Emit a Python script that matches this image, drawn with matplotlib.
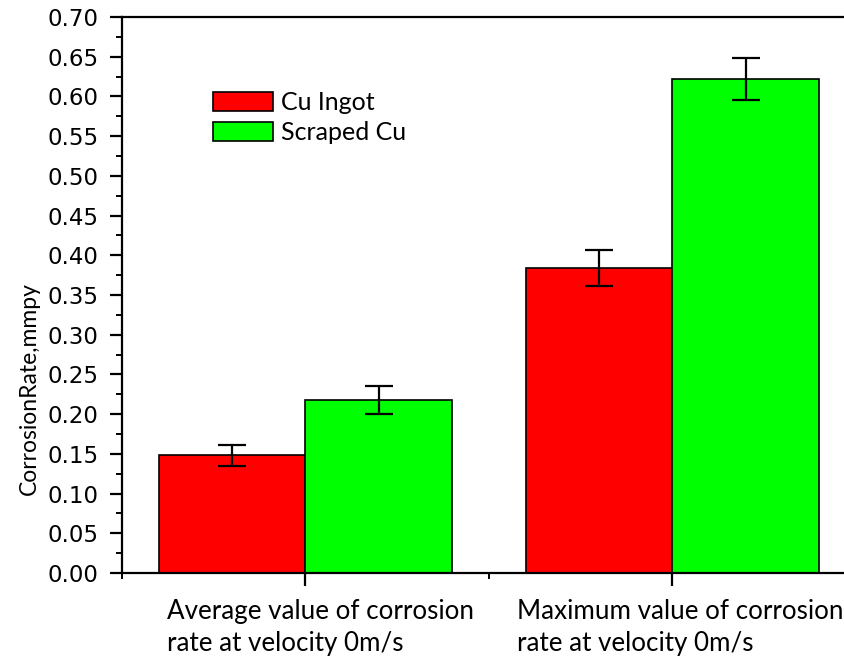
import matplotlib
matplotlib.use("Agg")
import matplotlib.pyplot as plt
import matplotlib.transforms as mtransforms
from matplotlib.ticker import MultipleLocator, FormatStrFormatter
import numpy as np

categories = ["Average value of corrosion\nrate at velocity 0m/s",
              "Maximum value of corrosion\nrate at velocity 0m/s"]
series_names = ["Cu Ingot", "Scraped Cu"]
ingot_values = [0.148, 0.384]
ingot_errors = [0.013, 0.023]
scraped_values = [0.218, 0.622]
scraped_errors = [0.018, 0.026]
colors = ["#FF0000", "#00FF00"]

fig = plt.figure(figsize=(8.45, 6.57), dpi=100)
ax = fig.add_axes([122/845, 1-573/657, (856-122)/845, (573-17)/657])

x = np.arange(len(categories))
w = 0.4
ekw = dict(elinewidth=1.6, capthick=1.6, capsize=10, ecolor="black")
ax.bar(x - w/2, ingot_values, w, yerr=ingot_errors, color=colors[0],
       edgecolor="black", linewidth=1.2, label=series_names[0], error_kw=ekw)
ax.bar(x + w/2, scraped_values, w, yerr=scraped_errors, color=colors[1],
       edgecolor="black", linewidth=1.2, label=series_names[1], error_kw=ekw)

ax.set_xlim(-0.5, 1.5)
ax.set_ylim(0, 0.70)
ax.yaxis.set_major_locator(MultipleLocator(0.05))
ax.yaxis.set_minor_locator(MultipleLocator(0.025))
ax.yaxis.set_major_formatter(FormatStrFormatter("%.2f"))
ax.set_xticks(x)
ax.set_xticks([-0.5, 0.5, 1.5], minor=True)

for s in ax.spines.values():
    s.set_linewidth(1.6)

ax.tick_params(axis="y", which="major", direction="out", length=9, width=1.6,
               pad=8, labelsize=16.5)
ax.tick_params(axis="y", which="minor", direction="out", length=4.5, width=1.4)
ax.tick_params(axis="x", which="major", direction="out", length=9, width=1.6, pad=10)
ax.tick_params(axis="x", which="minor", direction="out", length=4, width=1.4)

ax.set_xticklabels(categories, fontfamily="Lato", fontsize=18.7, ha="left",
                   multialignment="left", linespacing=1.32)
shifts = [-138, -155]
for lab, dx in zip(ax.get_xticklabels(), shifts):
    lab.set_transform(lab.get_transform() +
                      mtransforms.ScaledTranslation(dx/100, 0, fig.dpi_scale_trans))

ax.set_ylabel("CorrosionRate,mmpy", fontsize=16.5, fontfamily="Lato")
ax.yaxis.set_label_coords(-0.112, 0.331)

leg = ax.legend(loc="upper left", bbox_to_anchor=(213/845, 1-91/657),
                bbox_transform=fig.transFigure, frameon=False,
                prop={"family": "Lato", "size": 18},
                handlelength=2.4, handleheight=0.8, handletextpad=0.32,
                labelspacing=0.3, borderpad=0, borderaxespad=0)

fig.savefig("out.png", dpi=100)
